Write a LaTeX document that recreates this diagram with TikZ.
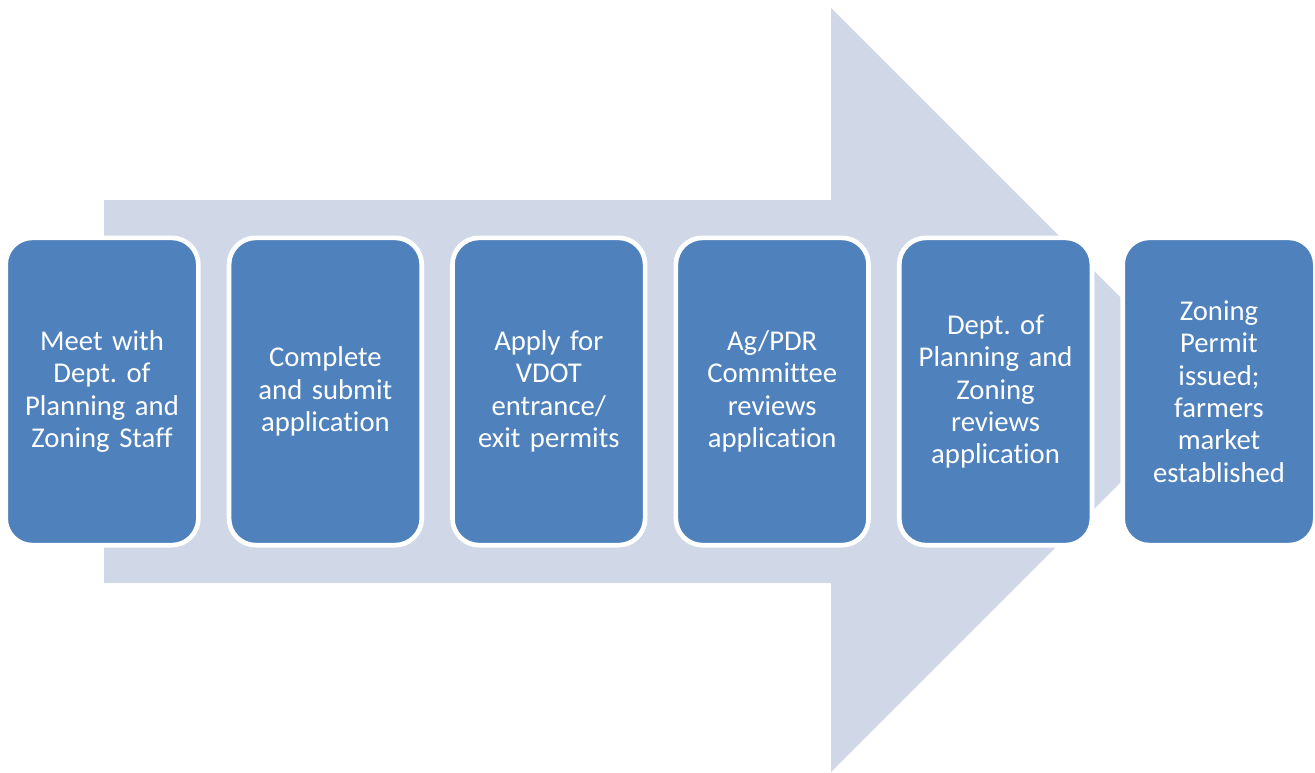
\documentclass[tikz,border=0pt]{standalone}
\usepackage{fontspec}
\setmainfont{Carlito}[Ligatures=NoCommon]
\definecolor{boxblue}{HTML}{4F81BD}
\definecolor{arrowgray}{HTML}{D0D8E8}
\begin{document}
\frenchspacing
\begin{tikzpicture}[x=0.75pt,y=-0.75pt,
  stepbox/.style={draw=white, line width=3.5pt, fill=boxblue, rounded corners=20pt,
    minimum width=144.5pt, minimum height=230.5pt, text=white, align=center,
    font=\fontsize{21.5}{24.3}\selectfont, inner sep=0pt, text width=138pt}]
\useasboundingbox (0,0) rectangle (1315,772);
\fill[arrowgray] (104,200) -- (831,200) -- (831,8) -- (1213,390) -- (831,772) -- (831,583) -- (104,583) -- cycle;
\node[stepbox] (s1) at (102,391.5) {Meet with\\Dept. of\\Planning and\\Zoning Staff};
\node[stepbox] (s2) at (325.4,391.5) {Complete\\and submit\\application};
\node[stepbox] (s3) at (548.8,391.5) {Apply for\\VDOT\\entrance/\\exit permits};
\node[stepbox] (s4) at (772.2,391.5) {Ag/PDR\\Committee\\reviews\\application};
\node[stepbox] (s5) at (995.6,391.5) {Dept. of\\Planning and\\Zoning\\reviews\\application};
\node[stepbox] (s6) at (1219,391.5) {Zoning\\Permit\\issued;\\farmers\\market\\established};
\end{tikzpicture}
\end{document}
